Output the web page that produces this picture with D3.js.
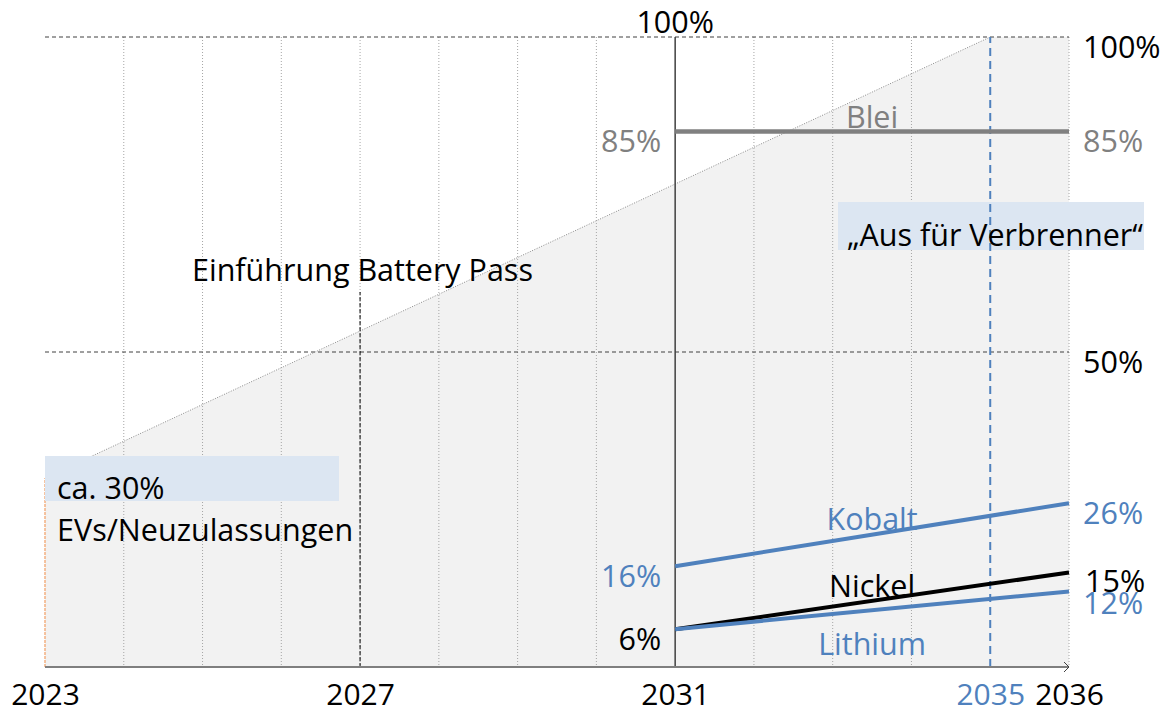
<!DOCTYPE html>
<html>
<head>
<meta charset="utf-8">
<style>
  body { margin: 0; background: #fff; }
  svg text { font-family: "Open Sans", "Noto Sans", sans-serif; font-size: 30.5px; }
</style>
</head>
<body>
<svg width="1169" height="715"></svg>
<script src="https://d3js.org/d3.v7.min.js"></script>
<script>
// ---- data ----
var tickYears = [2023, 2027, 2031, 2035, 2036];
var gridYears = [2024, 2025, 2026, 2027, 2028, 2029, 2030, 2032, 2033, 2034, 2036];
var evYears = [2023, 2035, 2036];          // EV share of new registrations
var evShare = [30, 100, 100];
var refLevels = [50, 100];

var metals = ["Blei", "Kobalt", "Nickel", "Lithium"];
var metalStart = [85, 16, 6, 6];           // recycling quota 2031
var metalEnd = [85, 26, 15, 12];           // recycling quota 2036
var metalColors = ["#808080", "#4f81bd", "#000000", "#4f81bd"];

var svg = d3.select("svg");

var x = d3.scaleLinear().domain([2023, 2036]).range([45, 1069]);
var y = d3.scaleLinear().domain([0, 100]).range([667, 37]);

var blue = "#4f81bd";

// grey EV area
var evData = evYears.map(function(d, i) { return { year: d, value: evShare[i] }; });
svg.append("path")
    .datum(evData)
    .attr("fill", "#f2f2f2")
    .attr("d", d3.area()
        .x(function(d) { return x(d.year); })
        .y0(y(0))
        .y1(function(d) { return y(d.value); }));

// dotted year gridlines
svg.append("g").selectAll("line")
  .data(gridYears)
  .enter().append("line")
    .attr("x1", function(d) { return x(d); })
    .attr("x2", function(d) { return x(d); })
    .attr("y1", y(100))
    .attr("y2", y(0))
    .attr("stroke", "#a6a6a6")
    .attr("stroke-width", 1)
    .attr("stroke-dasharray", "1,2");

// dashed reference levels
svg.append("g").selectAll("line")
  .data(refLevels)
  .enter().append("line")
    .attr("x1", x(2023))
    .attr("x2", x(2036))
    .attr("y1", function(d) { return y(d); })
    .attr("y2", function(d) { return y(d); })
    .attr("stroke", "#404040")
    .attr("stroke-width", 1)
    .attr("stroke-dasharray", "4,3");

// diagonal EV trend
svg.append("line")
    .attr("x1", x(evYears[0])).attr("y1", y(evShare[0]))
    .attr("x2", x(evYears[1])).attr("y2", y(evShare[1]))
    .attr("stroke", "#8c8c8c")
    .attr("stroke-width", 1)
    .attr("stroke-dasharray", "1,1.5");

// orange start marker 2023
svg.append("line")
    .attr("x1", x(2023)).attr("x2", x(2023))
    .attr("y1", y(0)).attr("y2", y(evShare[0]))
    .attr("stroke", "#f4b183")
    .attr("stroke-width", 1.5)
    .attr("stroke-dasharray", "3,1");

// battery pass marker 2027
svg.append("line")
    .attr("x1", x(2027)).attr("x2", x(2027))
    .attr("y1", y(0)).attr("y2", 292)
    .attr("stroke", "#000")
    .attr("stroke-width", 1)
    .attr("stroke-dasharray", "4,2");

// boxes
svg.append("rect")
    .attr("x", x(2023)).attr("y", 456)
    .attr("width", 294).attr("height", 45)
    .attr("fill", "#dce6f2");
svg.append("rect")
    .attr("x", 838).attr("y", 202)
    .attr("width", 306).attr("height", 48)
    .attr("fill", "#dce6f2");

// 2031 solid line
svg.append("line")
    .attr("x1", x(2031)).attr("x2", x(2031))
    .attr("y1", y(0)).attr("y2", y(100))
    .attr("stroke", "#404040")
    .attr("stroke-width", 1.5);

// 2035 blue dashed
svg.append("line")
    .attr("x1", x(2035)).attr("x2", x(2035))
    .attr("y1", y(0)).attr("y2", y(100))
    .attr("stroke", blue)
    .attr("stroke-width", 2)
    .attr("stroke-dasharray", "8,5");

// metal quota lines
svg.append("g").selectAll("line")
  .data(metals)
  .enter().append("line")
    .attr("x1", x(2031))
    .attr("x2", x(2036))
    .attr("y1", function(d, i) { return y(metalStart[i]); })
    .attr("y2", function(d, i) { return y(metalEnd[i]); })
    .attr("stroke", function(d, i) { return metalColors[i]; })
    .attr("stroke-width", function(d, i) { return i == 0 ? 4.5 : 4; });

// metal names
var nameOffset = [-14, -16, -15, 34];
svg.append("g").selectAll("text")
  .data(metals)
  .enter().append("text")
    .attr("x", x(2033.5))
    .attr("y", function(d, i) { return y((metalStart[i] + metalEnd[i]) / 2) + nameOffset[i]; })
    .attr("dy", "0.36em")
    .attr("text-anchor", "middle")
    .attr("fill", function(d, i) { return i == 2 ? "#000" : metalColors[i]; })
    .text(function(d) { return d; });

// start values (left of 2031)
var startShown = [0, 1, 2];
svg.append("g").selectAll("text")
  .data(startShown)
  .enter().append("text")
    .attr("x", x(2031) - 14)
    .attr("y", function(i) { return y(metalStart[i]) + 10; })
    .attr("dy", "0.36em")
    .attr("text-anchor", "end")
    .attr("fill", function(i) { return i == 2 ? "#000" : metalColors[i]; })
    .text(function(i) { return metalStart[i] + "%"; });

// end values (right of 2036)
var endOffset = [10, 10, 9, 12];
svg.append("g").selectAll("text")
  .data(metals)
  .enter().append("text")
    .attr("x", function(d, i) { return x(2036) + (i == 2 ? 16 : 14); })
    .attr("y", function(d, i) { return y(metalEnd[i]) + endOffset[i]; })
    .attr("dy", "0.36em")
    .attr("text-anchor", "start")
    .attr("fill", function(d, i) { return i == 2 ? "#000" : metalColors[i]; })
    .text(function(d, i) { return metalEnd[i] + "%"; });

// reference level labels on the right
svg.append("g").selectAll("text")
  .data(refLevels)
  .enter().append("text")
    .attr("x", x(2036) + 14)
    .attr("y", function(d) { return y(d) + 10; })
    .attr("dy", "0.36em")
    .attr("fill", "#000")
    .text(function(d) { return d + "%"; });

// 100% on top of the 2031 line
svg.append("text")
    .attr("x", x(2031))
    .attr("y", y(100) - 15)
    .attr("dy", "0.36em")
    .attr("text-anchor", "middle")
    .text("100%");

// annotations
svg.append("text")
    .attr("x", 192).attr("y", 270)
    .attr("dy", "0.36em")
    .text("Einführung Battery Pass");
svg.append("text")
    .attr("x", 847).attr("y", 235)
    .attr("dy", "0.36em")
    .text("„Aus für Verbrenner“");
svg.append("text")
    .attr("x", 57).attr("y", 488)
    .attr("dy", "0.36em")
    .text("ca. 30%");
svg.append("text")
    .attr("x", 57).attr("y", 530)
    .attr("dy", "0.36em")
    .text("EVs/Neuzulassungen");

// x axis
var xAxis = svg.append("g")
    .attr("transform", "translate(0," + y(0) + ")")
    .call(d3.axisBottom(x)
        .tickValues(tickYears)
        .tickFormat(d3.format("d"))
        .tickSize(0)
        .tickPadding(17));
xAxis.select(".domain").remove();
xAxis.selectAll("text")
    .style("font-size", "30px")
    .style("font-family", "'Open Sans', sans-serif")
    .attr("fill", function(d) { return d == 2035 ? blue : "#000"; });

svg.append("line")
    .attr("x1", x(2023)).attr("x2", x(2036))
    .attr("y1", y(0)).attr("y2", y(0))
    .attr("stroke", "#7f7f7f")
    .attr("stroke-width", 2);
svg.append("path")
    .attr("d", "M" + (x(2036) - 5) + "," + (y(0) - 5) + "L" + x(2036) + "," + y(0) + "L" + (x(2036) - 5) + "," + (y(0) + 5))
    .attr("fill", "none")
    .attr("stroke", "#404040")
    .attr("stroke-width", 1);
</script>
</body>
</html>
